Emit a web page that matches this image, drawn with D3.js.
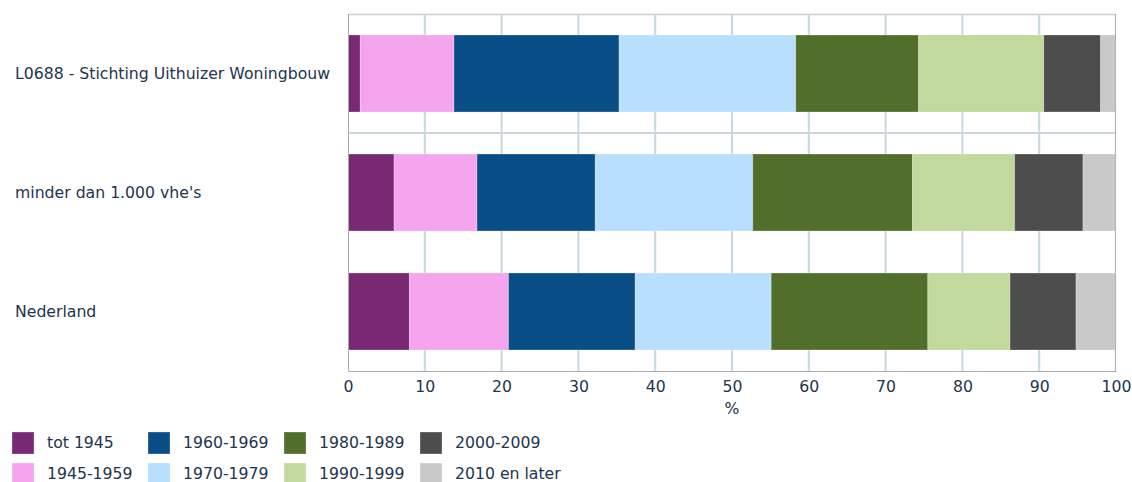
<!DOCTYPE html>
<html>
<head>
<meta charset="utf-8">
<script src="https://cdn.jsdelivr.net/npm/d3@7"></script>
<style>
  html, body { margin: 0; padding: 0; background: #fff; }
  svg { display: block; font-family: "DejaVu Sans", Verdana, sans-serif; }
</style>
</head>
<body>
<svg id="chart" width="1132" height="482"></svg>
<script>
// ---- data ----
const categories = ["L0688 - Stichting Uithuizer Woningbouw", "minder dan 1.000 vhe's", "Nederland"];
const seriesNames = ["tot 1945", "1945-1959", "1960-1969", "1970-1979", "1980-1989", "1990-1999", "2000-2009", "2010 en later"];
const seriesColors = ["#792873", "#f5a5ee", "#0a4e88", "#b8dffd", "#516e2b", "#c2d99e", "#4d4d4d", "#c9c9c9"];
const valuesL0688 = [1.6, 12.2, 21.5, 23.0, 16.0, 16.3, 7.4, 2.0];
const valuesSmall = [6.0, 10.8, 15.4, 20.5, 20.8, 13.3, 8.9, 4.3];
const valuesNL = [8.0, 12.9, 16.5, 17.7, 20.4, 10.7, 8.6, 5.1];
const xTicks = [0, 10, 20, 30, 40, 50, 60, 70, 80, 90, 100];
const xAxisTitle = "%";

const rows = [valuesL0688, valuesSmall, valuesNL];
const table = categories.map((c, i) => {
  const o = { category: c };
  seriesNames.forEach((s, j) => o[s] = rows[i][j]);
  return o;
});

// ---- layout ----
const svg = d3.select("#chart");
const m = { left: 348, right: 1116, top: 14, bottom: 371 };
const textColor = "#22354d";
const gridColor = "#c9d7df";
const fs = 15.7;

const x = d3.scaleLinear().domain([0, 100]).range([m.left, m.right]);
const y = d3.scaleBand().domain(categories).range([m.top, m.bottom])
  .paddingInner(0.353).paddingOuter(0.1765);

// grid lines
const g = svg.append("g");
g.selectAll("line.vgrid").data(xTicks.filter(t => t > 0 && t < 100)).join("line")
  .attr("class", "vgrid")
  .attr("x1", d => x(d)).attr("x2", d => x(d))
  .attr("y1", m.top).attr("y2", m.bottom)
  .attr("stroke", gridColor).attr("stroke-width", 2);

// separator between first row and the reference rows
const sepY = y(categories[1]) - y.step() * y.paddingInner() / 2;
g.append("line")
  .attr("x1", m.left).attr("x2", m.right)
  .attr("y1", sepY).attr("y2", sepY)
  .attr("stroke", gridColor).attr("stroke-width", 2);

// top border
g.append("line").attr("x1", m.left).attr("x2", m.right).attr("y1", m.top + 0.5).attr("y2", m.top + 0.5)
  .attr("stroke", "#c6d0d6").attr("stroke-width", 1.5);

// bars
const stack = d3.stack().keys(seriesNames)(table);
const layers = svg.append("g").selectAll("g").data(stack).join("g")
  .attr("fill", (d, i) => seriesColors[i]);
layers.selectAll("rect").data(d => d).join("rect")
  .attr("x", d => x(d[0]))
  .attr("width", d => x(d[1]) - x(d[0]))
  .attr("y", d => y(d.data.category))
  .attr("height", y.bandwidth())
  .attr("stroke", "#ffffff").attr("stroke-opacity", 0.25).attr("stroke-width", 1);

// border lines (left axis, right, bottom)
svg.append("line").attr("x1", m.left + 0.5).attr("x2", m.left + 0.5).attr("y1", m.top).attr("y2", m.bottom)
  .attr("stroke", "#aaaaaa").attr("stroke-width", 1);
svg.append("line").attr("x1", m.right - 0.5).attr("x2", m.right - 0.5).attr("y1", m.top).attr("y2", m.bottom)
  .attr("stroke", "#b4b4b4").attr("stroke-width", 1.2);

// x axis
const xAxis = svg.append("g").attr("transform", `translate(0,${m.bottom})`)
  .call(d3.axisBottom(x).tickValues(xTicks).tickSize(0).tickPadding(10).tickFormat(d3.format("d")));
xAxis.select(".domain").attr("stroke", "#aaaaaa").attr("stroke-width", 1.2);
xAxis.selectAll("text").attr("fill", textColor).attr("font-size", fs)
  .attr("font-family", "DejaVu Sans, Verdana, sans-serif");

svg.append("text").attr("x", (m.left + m.right) / 2).attr("y", 414)
  .attr("text-anchor", "middle").attr("fill", textColor).attr("font-size", fs)
  .text(xAxisTitle);

// category labels
svg.append("g").selectAll("text").data(categories).join("text")
  .attr("x", 15)
  .attr("y", d => y(d) + y.bandwidth() / 2)
  .attr("dy", "0.35em")
  .attr("fill", textColor).attr("font-size", fs)
  .text(d => d);

// legend (column-major, 2 rows)
const legend = svg.append("g");
const items = legend.selectAll("g").data(seriesNames).join("g")
  .attr("transform", (d, i) => `translate(${12 + Math.floor(i / 2) * 136},${432 + (i % 2) * 31})`);
items.append("rect").attr("width", 22).attr("height", 22)
  .attr("fill", (d, i) => seriesColors[i])
  .attr("stroke", "#ffffff").attr("stroke-opacity", 0.3);
items.append("text").attr("x", 35).attr("y", 10.5).attr("dy", "0.32em")
  .attr("fill", textColor).attr("font-size", fs)
  .text(d => d);
</script>
</body>
</html>
